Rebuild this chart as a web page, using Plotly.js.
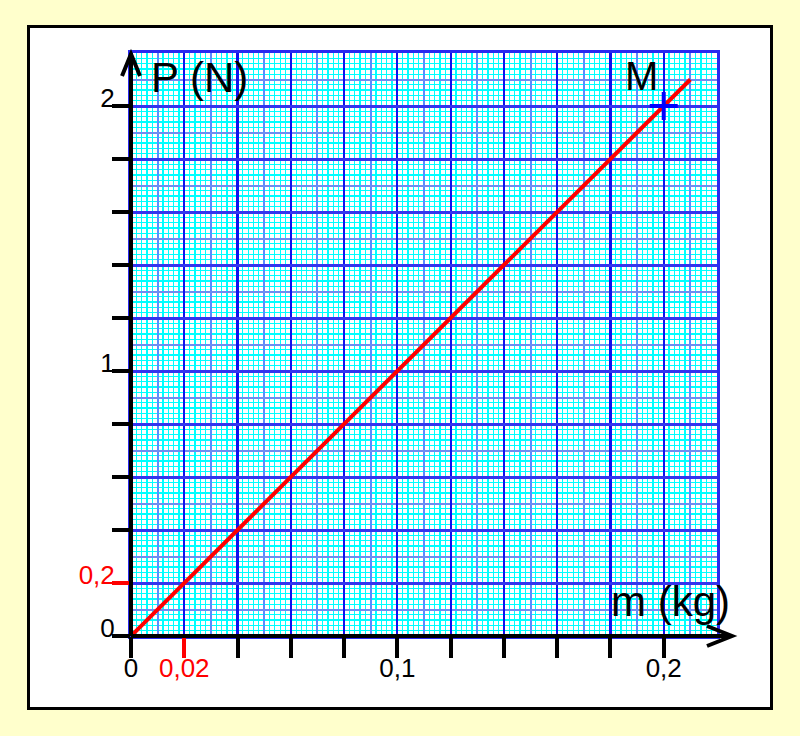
<!DOCTYPE html>
<html><head><meta charset="utf-8">
<script src="https://cdn.plot.ly/plotly-3.0.1.min.js"></script>
<style>
html,body{margin:0;padding:0;background:#ffffcc;width:800px;height:736px;overflow:hidden;}
#frame{position:absolute;left:27px;top:25px;width:746px;height:685px;border:3px solid #000;box-sizing:border-box;background:#fff;}
#chart{width:740px;height:679px;}
</style></head><body>
<div id="frame"><div id="chart"></div></div>
<script>
// ---- data ----
const massKg = [0, 0.21];
const weightN = [0, 2.1];
const pointMass = [0.2];
const pointWeight = [2];
const pointName = ['M'];
const xTickVals = [0, 0.02, 0.04, 0.06, 0.08, 0.1, 0.12, 0.14, 0.16, 0.18, 0.2];
const xTickText = ['0', '', '', '', '', '0,1', '', '', '', '', '0,2'];
const yTickVals = [0, 0.2, 0.4, 0.6, 0.8, 1, 1.2, 1.4, 1.6, 1.8, 2];
const yTickText = ['0', '', '', '', '', '1', '', '', '', '', '2'];
const xMarkedTick = [0.02];
const xMarkedText = ['0,02'];
const yMarkedTick = [0.2];
const yMarkedText = ['0,2'];
const xRange = [0, 0.22];
const yRange = [0, 2.2];
const xTitle = 'm (kg)';
const yTitle = 'P (N)';

// ---- styles ----
const FONT = '"Liberation Sans", Arial, sans-serif';
function gridAxis(range, anchor, extra) {
  return Object.assign({
    range: range, anchor: anchor, showticklabels: false, ticks: '',
    showline: false, zeroline: false, fixedrange: true, showgrid: true,
    tickmode: 'linear'
  }, extra);
}

const traces = [
  {type: 'scatter', x: [], y: [], xaxis: 'x', yaxis: 'y', hoverinfo: 'skip'},
  {type: 'scatter', x: [], y: [], xaxis: 'x2', yaxis: 'y2', hoverinfo: 'skip'},
  {type: 'scatter', x: [], y: [], xaxis: 'x3', yaxis: 'y3', hoverinfo: 'skip'},
  {type: 'scatter', mode: 'lines', x: massKg, y: weightN, xaxis: 'x4', yaxis: 'y4',
   line: {color: '#ff0000', width: 4}, hoverinfo: 'skip'},
  {type: 'scatter', mode: 'markers', x: pointMass, y: pointWeight, xaxis: 'x4', yaxis: 'y4',
   cliponaxis: false,
   marker: {symbol: 'cross-thin', size: 20, color: '#0000ff', line: {color: '#0000ff', width: 4}},
   hoverinfo: 'skip'},
  {type: 'scatter', x: [], y: [], xaxis: 'x5', yaxis: 'y5', hoverinfo: 'skip'}
];

const tickFont = {size: 26, color: '#000', family: FONT};
const redTickFont = {size: 26, color: '#ff0000', family: FONT};

const layout = {
  width: 740, height: 679,
  margin: {l: 101, r: 53, t: 25, b: 71, pad: 0},
  paper_bgcolor: '#ffffff', plot_bgcolor: 'rgba(0,0,0,0)',
  showlegend: false,
  font: {family: FONT, color: '#000'},
  xaxis: gridAxis(xRange, 'y', {tick0: 0, dtick: 0.002, gridcolor: '#00ffff', gridwidth: 1.25}),
  yaxis: gridAxis(yRange, 'x', {tick0: 0, dtick: 0.02, gridcolor: '#00ffff', gridwidth: 1.25}),
  xaxis2: gridAxis(xRange, 'y2', {tick0: 0.01, dtick: 0.02, gridcolor: '#5a8cff', gridwidth: 2}),
  yaxis2: gridAxis(yRange, 'x2', {tick0: 0.1, dtick: 0.2, gridcolor: '#6f8cf0', gridwidth: 2}),
  xaxis3: gridAxis(xRange, 'y3', {tick0: 0, dtick: 0.02, gridcolor: '#1010ee', gridwidth: 2.2,
    showline: true, mirror: true, linecolor: '#2a2af0', linewidth: 3}),
  yaxis3: gridAxis(yRange, 'x3', {tick0: 0, dtick: 0.2, gridcolor: '#3535ee', gridwidth: 3,
    showline: true, mirror: true, linecolor: '#2a2af0', linewidth: 3}),
  xaxis4: {
    range: xRange, anchor: 'y4', fixedrange: true, showgrid: false, zeroline: false, showline: false,
    tickmode: 'array', tickvals: xTickVals, ticktext: xTickText,
    ticks: 'outside', ticklen: 21, tickwidth: 4, tickcolor: '#000',
    tickfont: tickFont, ticklabelstandoff: -12
  },
  yaxis4: {
    range: yRange, anchor: 'x4', fixedrange: true, showgrid: false, zeroline: false, showline: false,
    tickmode: 'array', tickvals: yTickVals, ticktext: yTickText,
    ticks: 'outside', ticklen: 18, tickwidth: 4, tickcolor: '#000',
    tickfont: tickFont, ticklabelstandoff: -8, ticklabelshift: -8
  },
  xaxis5: {
    range: xRange, overlaying: 'x4', anchor: 'y4', fixedrange: true, showgrid: false, zeroline: false, showline: false,
    tickmode: 'array', tickvals: xMarkedTick, ticktext: xMarkedText,
    ticks: 'outside', ticklen: 21, tickwidth: 4, tickcolor: '#ff0000',
    tickfont: redTickFont, ticklabelstandoff: -12
  },
  yaxis5: {
    range: yRange, overlaying: 'y4', anchor: 'x4', side: 'left', fixedrange: true, showgrid: false, zeroline: false, showline: false,
    tickmode: 'array', tickvals: yMarkedTick, ticktext: yMarkedText,
    ticks: 'outside', ticklen: 18, tickwidth: 4, tickcolor: '#ff0000',
    tickfont: redTickFont, ticklabelstandoff: -8, ticklabelshift: -8
  },
  shapes: [
    {type: 'line', layer: 'above', xref: 'x4 domain', yref: 'y4 domain', x0: 0, x1: 1, y0: 0, y1: 0,
     line: {color: '#000', width: 4}},
    {type: 'path', layer: 'above', xref: 'x4 domain', yref: 'y4 domain',
     xsizemode: 'pixel', ysizemode: 'pixel', xanchor: 1, yanchor: 0,
     path: 'M-2,0 L15,0 M-10,10 L15,0 L-10,-10', line: {color: '#000', width: 4}},
    {type: 'line', layer: 'above', xref: 'x4 domain', yref: 'y4 domain', x0: 0, x1: 0, y0: 0, y1: 1,
     line: {color: '#000', width: 4}},
    {type: 'path', layer: 'above', xref: 'x4 domain', yref: 'y4 domain',
     xsizemode: 'pixel', ysizemode: 'pixel', xanchor: 0, yanchor: 1,
     path: 'M-9,-23 L0,-1 L9,-23', line: {color: '#000', width: 4}}
  ],
  annotations: [
    {xref: 'x4', yref: 'y4', x: pointMass[0], y: pointWeight[0], text: pointName[0], showarrow: false,
     xanchor: 'right', yanchor: 'bottom', xshift: -4, yshift: 6, font: {size: 40, color: '#000', family: FONT}},
    {xref: 'paper', yref: 'paper', x: 0.03, y: 0.958, text: yTitle, showarrow: false,
     xanchor: 'left', yanchor: 'middle', font: {size: 42, color: '#000', family: FONT}},
    {xref: 'paper', yref: 'paper', x: 0.921, y: 0.06, text: xTitle, showarrow: false,
     xanchor: 'center', yanchor: 'middle', font: {size: 42, color: '#000', family: FONT}}
  ]
};

Plotly.newPlot('chart', traces, layout, {staticPlot: true, displayModeBar: false});
</script>
</body></html>
